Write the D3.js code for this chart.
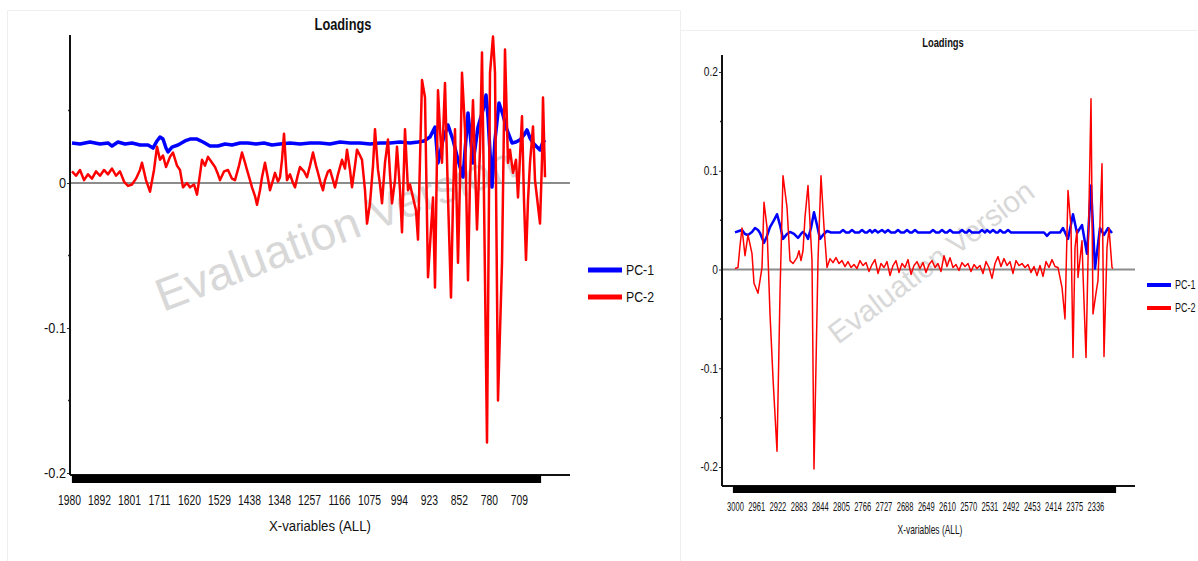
<!DOCTYPE html>
<html><head><meta charset="utf-8">
<script src="https://cdn.jsdelivr.net/npm/d3@7"></script>
<style>
html,body{margin:0;padding:0;background:#fff;}
svg{display:block;}
text{font-family:"Liberation Sans",Arial,sans-serif;}
</style></head>
<body>
<svg id="chart" width="1198" height="561"></svg>
<script>
// ---------- DATA ----------
const seriesNames = ["PC-1", "PC-2"];
const leftTickLabels = ["1980","1892","1801","1711","1620","1529","1438","1348","1257","1166","1075","994","923","852","780","709"];
const rightTickLabels = ["3000","2961","2922","2883","2844","2805","2766","2727","2688","2649","2610","2570","2531","2492","2453","2414","2375","2336"];
const leftYTicks = [-0.2, -0.1, 0];
const rightYTicks = [-0.2, -0.1, 0, 0.1, 0.2];

// [variable index, loading]
const leftPC1 = [[0,0.0276],[8,0.0269],[18,0.0283],[28,0.0269],[36,0.0276],[40,0.0255],[46,0.0283],[53,0.0269],[60,0.0276],[68,0.0262],[76,0.0262],[81,0.0241],[85,0.029],[88,0.0317],[91,0.0303],[94,0.0241],[96,0.0214],[100,0.0248],[106,0.0262],[113,0.029],[118,0.0303],[125,0.0303],[131,0.0283],[138,0.0255],[146,0.0255],[153,0.0269],[160,0.0262],[168,0.0276],[176,0.0276],[184,0.0269],[192,0.0276],[200,0.0262],[208,0.0269],[218,0.0276],[228,0.0269],[238,0.0276],[248,0.0276],[258,0.0269],[268,0.0283],[278,0.0276],[288,0.0276],[298,0.0269],[308,0.0276],[318,0.0276],[328,0.0283],[338,0.0276],[346,0.0283],[352,0.029],[358,0.0317],[363,0.0386],[366,0.0138],[371,0.0297],[376,0.04],[381,0.0297],[386,0.0159],[391,0.0041],[396,0.0483],[401,0.0138],[406,0.0386],[411,0.0503],[414,0.0607],[416,0.0455],[420,-0.0028],[423,0.0297],[427,0.0552],[431,0.0469],[435,0.0366],[440,0.0276],[444,0.0283],[448,0.0297],[452,0.0331],[455,0.0366],[458,0.031],[461,0.0276],[465,0.0248],[468,0.0228],[471,0.0283],[473,0.0297]];

const leftPC2 = [[0,0.008],[4,0.005],[8,0.009],[12,0.002],[16,0.006],[20,0.003],[24,0.008],[28,0.005],[32,0.009],[36,0.006],[40,0.010],[44,0.005],[48,0.008],[52,0.001],[56,-0.002],[60,-0.001],[64,0.003],[68,0.009],[70,0.014],[74,0.002],[78,-0.006],[82,0.009],[85,0.025],[88,0.016],[91,0.019],[94,0.011],[98,0.018],[101,0.021],[105,0.012],[108,0.009],[111,-0.003],[115,0.000],[118,-0.003],[122,-0.001],[125,-0.008],[128,0.006],[130,0.016],[133,0.012],[136,0.018],[140,0.014],[143,0.011],[146,0.006],[148,0.002],[152,0.008],[156,0.009],[160,0.003],[163,0.002],[167,0.012],[170,0.021],[173,0.014],[175,0.009],[178,0.002],[180,-0.003],[183,-0.009],[185,-0.015],[188,-0.005],[190,0.004],[193,0.014],[196,0.003],[198,-0.005],[201,0.002],[203,0.007],[206,0.001],[208,0.004],[210,0.016],[212,0.034],[214,0.012],[215,0.002],[218,0.006],[221,0.000],[223,-0.003],[226,0.006],[228,0.011],[232,0.008],[235,0.004],[238,0.012],[241,0.021],[244,0.012],[246,0.007],[249,-0.001],[251,-0.005],[253,0.002],[256,0.008],[258,0.009],[261,0.002],[263,-0.003],[266,0.006],[270,0.016],[273,0.010],[275,0.023],[278,0.009],[280,-0.003],[283,0.012],[285,0.023],[288,0.019],[290,0.016],[293,-0.005],[295,-0.028],[298,-0.014],[301,0.012],[303,0.037],[306,0.009],[308,-0.001],[310,-0.014],[313,0.014],[316,0.030],[318,0.006],[320,-0.014],[323,0.002],[325,0.025],[328,-0.005],[330,-0.034],[333,0.037],[336,-0.005],[338,-0.001],[341,-0.010],[344,-0.019],[346,-0.039],[348,0.016],[350,0.071],[353,0.059],[356,-0.065],[359,-0.032],[361,-0.010],[363,-0.072],[366,0.064],[368,0.037],[370,0.014],[373,0.069],[376,-0.010],[379,-0.079],[381,-0.012],[383,0.037],[386,-0.055],[388,0.002],[390,0.076],[393,0.037],[396,-0.067],[398,0.002],[401,0.057],[405,-0.032],[408,0.023],[410,0.090],[412,-0.010],[415,-0.179],[418,0.076],[421,0.101],[423,0.076],[426,-0.150],[430,-0.055],[433,0.092],[436,0.014],[438,0.023],[441,0.007],[444,0.016],[446,-0.010],[450,0.046],[452,-0.012],[454,-0.053],[456,-0.012],[458,0.014],[461,0.039],[463,0.002],[465,-0.010],[468,-0.028],[470,0.016],[471,0.059],[473,0.004]];

const rightPC1 = [[0,0.0376],[4,0.039],[7,0.040],[10,0.036],[13,0.035],[17,0.038],[20,0.042],[23,0.040],[25,0.037],[29,0.027],[32,0.034],[35,0.043],[39,0.050],[42,0.056],[45,0.045],[48,0.031],[52,0.036],[55,0.038],[59,0.036],[63,0.032],[66,0.036],[68,0.038],[71,0.035],[73,0.031],[76,0.042],[79,0.058],[82,0.045],[85,0.031],[88,0.035],[92,0.039],[96,0.0375],[105,0.0375],[108,0.040],[111,0.0375],[114,0.0375],[117,0.040],[120,0.0375],[124,0.0375],[127,0.040],[130,0.0375],[132,0.0375],[135,0.040],[137,0.0375],[140,0.040],[143,0.0375],[147,0.040],[150,0.0375],[153,0.040],[156,0.0375],[160,0.0375],[163,0.040],[166,0.0375],[169,0.0375],[172,0.040],[175,0.0375],[177,0.0375],[180,0.040],[183,0.0375],[195,0.0375],[198,0.040],[201,0.0375],[204,0.0375],[207,0.040],[210,0.0375],[212,0.0375],[215,0.040],[218,0.0375],[224,0.0375],[227,0.040],[230,0.0375],[232,0.0375],[234,0.040],[237,0.0375],[244,0.0375],[247,0.040],[250,0.0375],[252,0.040],[255,0.0375],[258,0.040],[261,0.0375],[263,0.0375],[265,0.040],[268,0.0375],[270,0.0375],[273,0.040],[276,0.0375],[309,0.0375],[312,0.034],[315,0.0375],[325,0.0375],[328,0.042],[333,0.031],[338,0.056],[342,0.037],[347,0.045],[352,0.016],[356,0.085],[360,0.001],[365,0.042],[369,0.035],[373,0.042],[377,0.037]];

const rightPC2 = [[0,0.001],[3,0.002],[5,0.024],[7,0.042],[10,0.014],[13,0.035],[17,0.016],[19,-0.014],[23,-0.024],[27,0.002],[29,0.068],[32,0.043],[35,-0.045],[38,-0.110],[42,-0.184],[45,-0.024],[48,0.095],[52,0.063],[55,0.009],[58,0.006],[62,0.012],[64,0.019],[66,0.009],[68,0.019],[70,0.053],[73,0.085],[77,0.009],[79,-0.202],[83,0.009],[86,0.095],[89,0.043],[92,0.002],[95,0.011],[98,0.007],[101,0.012],[104,0.006],[107,0.009],[110,0.003],[113,0.008],[116,0.002],[119,0.005],[122,0.001],[125,0.009],[128,0.004],[131,0.007],[134,-0.002],[137,0.005],[140,0.010],[143,-0.004],[146,0.006],[149,0.002],[152,0.008],[155,-0.006],[158,0.004],[161,0.009],[164,-0.003],[167,0.006],[170,0.002],[173,0.010],[176,-0.005],[179,0.004],[182,0.008],[185,0.001],[188,0.007],[191,-0.003],[194,0.005],[197,0.009],[200,0.002],[203,0.006],[206,-0.002],[209,0.014],[212,0.003],[215,0.012],[218,0.002],[221,0.005],[224,-0.001],[227,0.007],[230,0.003],[233,0.006],[236,-0.002],[239,0.005],[242,0.001],[245,0.004],[248,-0.004],[251,0.008],[254,0.002],[257,-0.009],[260,0.006],[263,0.013],[266,0.003],[269,0.011],[272,0.004],[275,0.008],[278,-0.004],[281,0.009],[284,0.004],[287,0.006],[290,0.002],[293,0.005],[296,-0.003],[299,0.003],[302,-0.006],[305,0.004],[308,-0.007],[311,0.008],[314,0.002],[317,0.010],[320,0.003],[323,0.002],[327,-0.018],[330,-0.050],[333,0.080],[336,0.043],[338,-0.089],[340,0.022],[342,0.040],[343,-0.008],[347,0.029],[348,-0.004],[351,-0.089],[353,0.009],[356,0.173],[358,-0.045],[361,-0.024],[363,-0.011],[367,0.107],[369,-0.088],[372,0.022],[374,0.042],[377,0.002],[378,0.001]];

// ---------- DRAWING ----------
const svg = d3.select("#chart");
const colors = {"PC-1": "#0000ff", "PC-2": "#ff0000"};

// squeeze text horizontally (around its own x) to mimic a narrow font
function condense(sel, f) {
  sel.each(function () {
    const x0 = +(this.getAttribute("x") || 0);
    this.setAttribute("transform", `translate(${x0},0) scale(${f},1) translate(${-x0},0)`);
  });
}

// faint panel frames
svg.append("path").attr("d","M7.5,561 V10.5 H680.5 V30.5").attr("fill","none").attr("stroke","#efefef");
svg.append("path").attr("d","M680.5,561 V30.5 H1197.5").attr("fill","none").attr("stroke","#efefef");

function drawPanel(cfg) {
  const g = svg.append("g");
  const x = d3.scaleLinear().domain([0, cfg.nVars - 1]).range([cfg.x0, cfg.x1]);
  const y = d3.scaleLinear().domain(cfg.yDomain).range(cfg.yRange);

  // watermark
  g.append("text")
    .attr("transform", `translate(${cfg.wm.x},${cfg.wm.y}) rotate(${cfg.wm.rot})`)
    .attr("font-size", cfg.wm.size).attr("fill", "#d8d8d8")
    .text("Evaluation Version");

  // title
  const t = g.append("text").attr("x", cfg.title.x).attr("y", cfg.title.y)
    .attr("text-anchor", "middle").attr("font-weight", "bold")
    .attr("font-size", cfg.title.size).attr("fill", "#111").text("Loadings");
  condense(t, cfg.title.f);

  // zero line
  g.append("line").attr("x1", cfg.axisX).attr("x2", cfg.xEnd)
    .attr("y1", y(0)).attr("y2", y(0)).attr("stroke", "#8c8c8c").attr("stroke-width", 2);

  // y axis
  const yAxis = d3.axisLeft(y).tickValues(cfg.yTicks).tickSize(3).tickPadding(0)
    .tickFormat(d => d === 0 ? "0" : d3.format(".1f")(d).replace("−", "-"));
  const ya = g.append("g").attr("transform", `translate(${cfg.axisX},0)`).call(yAxis);
  ya.select(".domain").remove();
  ya.attr("font-family", null);
  ya.selectAll("text").attr("font-size", cfg.ySize).attr("fill", "#111").attr("x", -4);
  condense(ya.selectAll("text"), cfg.yF);
  ya.selectAll("line").attr("stroke", "#333");
  const minor = [];
  for (let i = 0; i < cfg.yTicks.length - 1; i++) minor.push((cfg.yTicks[i] + cfg.yTicks[i + 1]) / 2);
  if (cfg.extraMinor) minor.push(cfg.extraMinor);
  g.selectAll(".minor").data(minor).join("line")
    .attr("x1", cfg.axisX - 2).attr("x2", cfg.axisX).attr("y1", d => y(d)).attr("y2", d => y(d))
    .attr("stroke", "#333").attr("stroke-width", 1.5);
  g.append("line").attr("x1", cfg.axisX).attr("x2", cfg.axisX)
    .attr("y1", cfg.yTop).attr("y2", cfg.xAxisY).attr("stroke", "#111").attr("stroke-width", 2);

  // x axis line + dense tick band
  g.append("line").attr("x1", cfg.axisX).attr("x2", cfg.xEnd)
    .attr("y1", cfg.xAxisY).attr("y2", cfg.xAxisY).attr("stroke", "#111").attr("stroke-width", 2);
  const bandTicks = d3.range(cfg.bandFrom, cfg.bandTo + 1);
  const band = d3.axisBottom(x).tickValues(bandTicks).tickSize(cfg.bandH).tickFormat("");
  const ba = g.append("g").attr("transform", `translate(0,${cfg.xAxisY})`).call(band);
  ba.select(".domain").remove();
  ba.selectAll("line").attr("stroke", "#000").attr("stroke-width", 1.2);

  // x tick labels
  const labelIdx = cfg.labels.map((d, i) => i * cfg.labelStep);
  const lab = d3.axisBottom(x).tickValues(labelIdx).tickSize(0).tickPadding(0)
    .tickFormat((d, i) => cfg.labels[i]);
  const la = g.append("g").attr("transform", `translate(${cfg.labelDx},${cfg.labelY})`).call(lab);
  la.select(".domain").remove();
  la.attr("font-family", null);
  la.selectAll("text").attr("font-size", cfg.labelSize).attr("fill", "#111").attr("dy", "0").attr("y", 0);
  condense(la.selectAll("text"), cfg.labelF);

  const xt = g.append("text").attr("x", cfg.xTitle.x).attr("y", cfg.xTitle.y).attr("text-anchor", "middle")
    .attr("font-size", cfg.xTitle.size).attr("fill", "#111").text("X-variables (ALL)");
  condense(xt, cfg.xTitle.f);

  // series lines
  const line = d3.line().x(d => x(d[0])).y(d => y(d[1]));
  cfg.series.forEach(s => {
    g.append("path").datum(s.data).attr("d", line).attr("fill", "none")
      .attr("stroke", colors[s.name]).attr("stroke-width", s.width).attr("stroke-linejoin", "round");
  });

  // legend
  seriesNames.forEach((name, i) => {
    const ly = cfg.legend.y + i * cfg.legend.gap;
    g.append("line").attr("x1", cfg.legend.x).attr("x2", cfg.legend.x + cfg.legend.len)
      .attr("y1", ly).attr("y2", ly).attr("stroke", colors[name]).attr("stroke-width", cfg.legend.w);
    const lt = g.append("text").attr("x", cfg.legend.x + cfg.legend.len + 4).attr("y", ly)
      .attr("dy", "0.35em").attr("font-size", cfg.legend.size).attr("fill", "#111").text(name);
    condense(lt, cfg.legend.f);
  });
}

drawPanel({
  nVars: 474, x0: 72, x1: 545, axisX: 70, xEnd: 570,
  yDomain: [-0.2, 0], yRange: [473, 183], yTop: 35, xAxisY: 475,
  yTicks: leftYTicks, extraMinor: 0.05, ySize: 15, yF: 0.85,
  bandFrom: 0, bandTo: 468, bandH: 8,
  labels: leftTickLabels, labelStep: 30, labelDx: -3, labelY: 505, labelSize: 14, labelF: 0.74,
  xTitle: {x: 320, y: 531, size: 15, f: 0.88},
  title: {x: 343, y: 30, size: 16, f: 0.8},
  wm: {x: 163, y: 312, rot: -21, size: 46},
  legend: {x: 588, y: 270, gap: 27, len: 34, w: 5, size: 15, f: 0.82},
  series: [{name: "PC-1", data: leftPC1, width: 3.5}, {name: "PC-2", data: leftPC2, width: 2.5}]
});

drawPanel({
  nVars: 379, x0: 735, x1: 1113, axisX: 722, xEnd: 1135,
  yDomain: [-0.2, 0.2], yRange: [467, 72], yTop: 55, xAxisY: 486,
  yTicks: rightYTicks, extraMinor: null, ySize: 12, yF: 0.85,
  bandFrom: -2, bandTo: 380, bandH: 7,
  labels: rightTickLabels, labelStep: 21.2, labelDx: 0, labelY: 511, labelSize: 12, labelF: 0.63,
  xTitle: {x: 930, y: 534, size: 12, f: 0.7},
  title: {x: 943, y: 47, size: 13, f: 0.72},
  wm: {x: 838, y: 345, rot: -37, size: 30},
  legend: {x: 1147, y: 285, gap: 23, len: 24, w: 4, size: 12, f: 0.75},
  series: [{name: "PC-1", data: rightPC1, width: 2.5}, {name: "PC-2", data: rightPC2, width: 1.5}]
});
</script>
</body></html>
